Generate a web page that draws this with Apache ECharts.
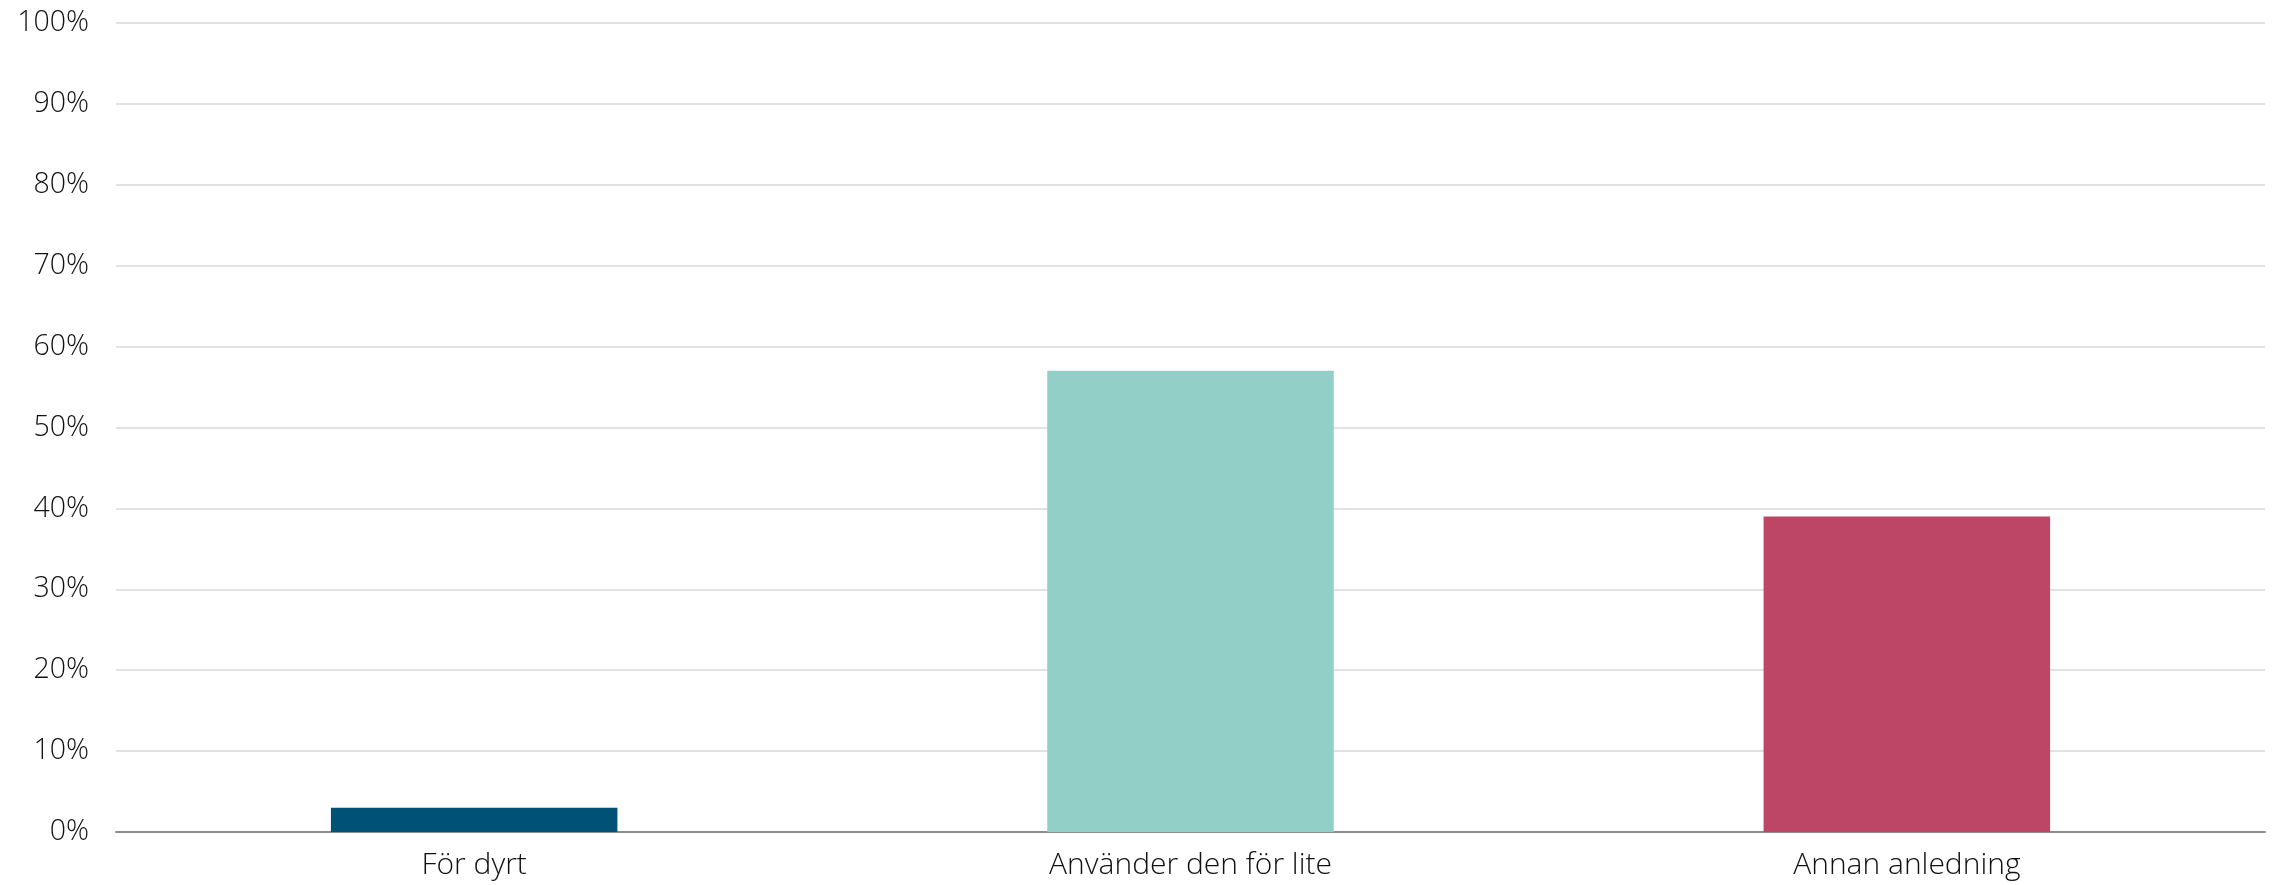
<!DOCTYPE html>
<html><head><meta charset="utf-8">
<script src="https://cdn.jsdelivr.net/npm/echarts@6/dist/echarts.min.js"></script>
<style>html,body{margin:0;padding:0;background:#fff}#c{width:2280px;height:885px}</style>
</head><body><div id="c"></div>
<script>
const categories = ['För dyrt', 'Använder den för lite', 'Annan anledning'];
const values = [3, 57, 39];
const colors = ['#005176', '#92cfc7', '#bc4664'];
const yTicks = [0, 10, 20, 30, 40, 50, 60, 70, 80, 90, 100];

const chart = echarts.init(document.getElementById('c'));
chart.setOption({
  animation: false,
  grid: { left: 116, right: 15, top: 23, bottom: 53, containLabel: false },
  xAxis: {
    type: 'category', data: categories,
    axisLine: { lineStyle: { color: '#8c8c8c', width: 2 } },
    axisTick: { show: false },
    axisLabel: { fontFamily: 'Open Sans', fontWeight: 300, fontSize: 30, color: '#111', margin: 18 }
  },
  yAxis: {
    type: 'value', min: 0, max: 100, interval: 10,
    axisLine: { show: false }, axisTick: { show: false },
    splitLine: { lineStyle: { color: '#d9d9d9', width: 1.5 } },
    axisLabel: { formatter: v => yTicks.includes(v) ? v + '%' : '', fontFamily: 'Open Sans', fontWeight: 300, fontSize: 28.5, color: '#111', margin: 27 }
  },
  series: [{
    type: 'bar', barWidth: '40%',
    data: values.map((v, i) => ({ value: v, itemStyle: { color: colors[i] } }))
  }]
});
</script></body></html>
